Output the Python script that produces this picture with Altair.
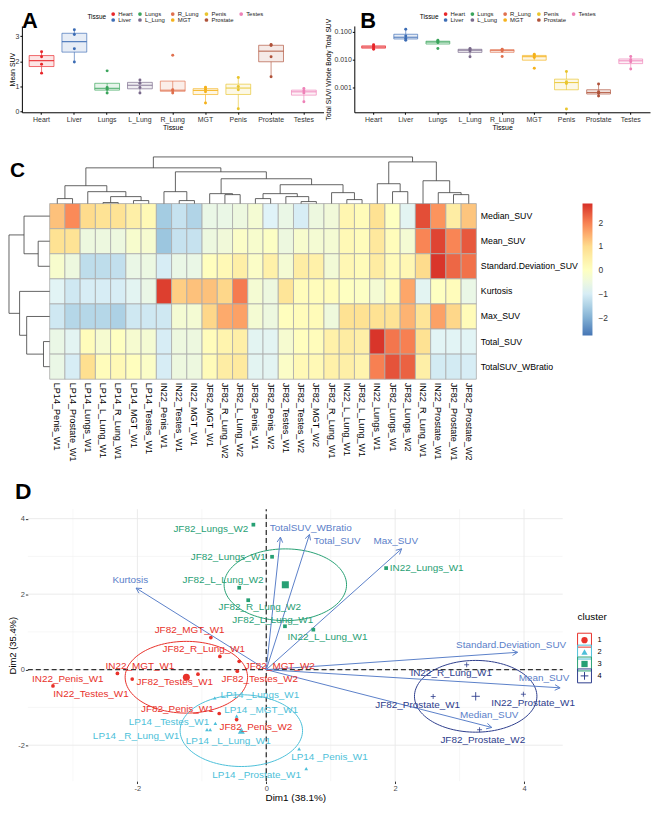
import altair as alt
import numpy as np
import pandas as pd

W, H = 648, 795
FONT = "Liberation Sans"

# ---------------- Panels A & B data ----------------
tissues = ["Heart", "Liver", "Lungs", "L_Lung", "R_Lung", "MGT", "Penis", "Prostate", "Testes"]
legend_order = ["Heart", "Lungs", "R_Lung", "Penis", "Testes", "Liver", "L_Lung", "MGT", "Prostate"]
legend_colors = ["#E8262A", "#3BA55C", "#E0704E", "#E9C52E", "#EE82B8", "#3D6DB5", "#7A6A8C", "#F5B21B", "#B0533A"]
sample_tissue = [t for t in tissues for _ in range(4)]
mean_suv = [2.38, 2.18, 1.88, 1.53,
            3.26, 3.07, 2.50, 1.97,
            1.62, 0.96, 0.89, 0.74,
            1.26, 1.13, 0.96, 0.74,
            2.24, 0.87, 0.83, 0.74,
            0.97, 0.89, 0.79, 0.34,
            1.36, 1.00, 0.87, 0.11,
            2.67, 2.63, 2.18, 1.39,
            0.92, 0.83, 0.74, 0.39]
suv_ratio = [0.0344, 0.0308, 0.0269, 0.0240,
             0.1245, 0.0719, 0.0578, 0.0504,
             0.0504, 0.0452, 0.0416, 0.0254,
             0.0254, 0.0234, 0.0209, 0.0128,
             0.0240, 0.0228, 0.0209, 0.0132,
             0.0159, 0.0139, 0.0121, 0.0050,
             0.00383, 0.00164, 0.00143, 0.000173,
             0.00135, 0.000724, 0.000631, 0.000501,
             0.0132, 0.0100, 0.0085, 0.00465]

# ---------------- Panel C data ----------------
hm_rows = ["Median_SUV", "Mean_SUV", "Standard.Deviation_SUV", "Kurtosis", "Max_SUV", "Total_SUV", "TotalSUV_WBratio"]
hm_cols = ["LP14_Penis_W1", "LP14_Prostate_W1", "LP14_Lungs_W1", "LP14_L_Lung_W1", "LP14_R_Lung_W1",
           "LP14_MGT_W1", "LP14_Testes_W1", "IN22_Penis_W1", "IN22_Testes_W1", "IN22_MGT_W1",
           "JF82_MGT_W1", "JF82_R_Lung_W2", "JF82_L_Lung_W2", "JF82_Penis_W1", "JF82_Penis_W2",
           "JF82_Testes_W1", "JF82_Testes_W2", "JF82_MGT_W2", "JF82_R_Lung_W1", "IN22_L_Lung_W1",
           "JF82_L_Lung_W1", "IN22_Lungs_W1", "JF82_Lungs_W1", "JF82_Lungs_W2", "IN22_R_Lung_W1",
           "IN22_Prostate_W1", "JF82_Prostate_W1", "JF82_Prostate_W2"]
median_z = [1.3, 1.9, 1.0, 0.85, 0.85, 0.5, 0.2, -1.6, -1.2, -1.45, -0.6, -0.6, -0.5, -0.3, -0.9, -0.6, -1.0, -0.5,
            -0.4, 0.3, 0.15, 0.9, 0.0, -0.8, 2.5, 1.8, 0.55, 1.25]
mean_z = [0.9, 0.85, -0.5, -0.5, -0.5, -0.2, -0.25, -1.7, -1.2, -1.2, -0.5, -0.4, -0.1, -0.2, -0.05, -0.5, -0.2, -0.3,
          -0.3, 0.2, 0.1, 0.7, 0.1, -0.3, 1.95, 2.6, 1.95, 2.4]
sd_z = [-0.2, -0.5, -1.3, -1.3, -1.25, -0.6, -0.55, -1.0, -0.6, -0.6, 0.05, 0.2, 0.5, -0.1, 0.45, -0.3, 0.55, 0.45,
        -0.35, 0.25, 0.15, 0.6, 0.15, 0.25, 1.0, 2.75, 2.25, 2.15]
kurt_z = [-0.85, -1.1, -1.0, -1.0, -1.0, -0.8, -0.6, 2.65, 1.15, 1.3, 1.3, 1.05, 2.05, -0.3, -0.5, 0.8, 0.1, 0.1,
          0.1, 0.0, -0.05, -0.3, 0.1, 1.6, -0.8, 0.0, 0.1, -0.6]
max_z = [-1.1, -1.4, -1.4, -1.4, -1.5, -1.1, -1.1, -1.1, -0.3, -0.3, 1.05, 1.55, 1.65, -0.3, -0.5, 0.05, 0.1, 0.15,
         -0.45, 0.9, 0.9, 0.9, 0.85, 1.45, 0.8, 1.65, 1.05, 0.15]
total_z = [-0.6, -0.8, 0.1, -0.25, 0.0, -0.25, -0.3, -1.0, -0.5, -0.5, 0.1, 0.35, 0.5, -0.8, -0.8, -0.25, 0.05, 0.1,
           0.45, 0.6, 0.5, 2.75, 2.1, 2.0, 0.9, -0.85, -0.85, -0.85]
wb_z = [-0.6, -1.0, 0.95, 0.1, 0.2, 0.05, -0.1, -1.0, -0.5, -0.5, 0.15, 0.55, 0.65, -0.8, -0.8, -0.1, 0.2, 0.2,
        0.45, 0.5, 0.35, 2.0, 2.45, 2.3, 0.5, -1.05, -1.05, -1.0]
hm_breaks = [-2.75, 2.8]
hm_palette = ["#4575B4", "#91BFDB", "#E0F3F8", "#FFFFBF", "#FEE090", "#FC8D59", "#D73027"]
# dendrograms: (merge height, left, right); leaves are column / row indices
col_tree = (47,
            (36,
             (18, (5, 0, 1), (12, 2, (7, (1, 3, 4), (3, 5, 6)))),
             (32, (12, 7, (3, 8, 9)),
              (25, (10, 10, (9, 11, 12)),
               (19, (10, (5, 13, 14), (7, 15, (2, 16, 17))), (11, 18, (4, 19, 20)))))),
            (42, (20, 21, (12, 22, 23)), (23, 24, (11, 25, (9, 26, 27)))))
row_tree = (46, (29, 0, (13, 1, 2)), (34, 3, (26, 4, (7, 5, 6))))

# ---------------- Panel D data ----------------
pca_samples = ["JF82_MGT_W1", "JF82_R_Lung_W1", "IN22_MGT_W1", "IN22_Penis_W1", "IN22_Testes_W1",
               "JF82_MGT_W2", "JF82_Testes_W2", "JF82_Testes_W1", "JF82_Penis_W1", "JF82_Penis_W2",
               "LP14 _Penis_W1", "LP14 _Prostate_W1", "LP14 _Lungs_W1", "LP14 _L_Lung_W1", "LP14 _R_Lung_W1",
               "LP14 _MGT_W1", "LP14 _Testes_W1",
               "JF82_Lungs_W2", "JF82_Lungs_W1", "JF82_L_Lung_W2", "JF82_R_Lung_W2", "JF82_L_Lung_W1",
               "IN22_L_Lung_W1", "IN22_Lungs_W1",
               "IN22_R_Lung_W1", "JF82_Prostate_W1", "IN22_Prostate_W1", "JF82_Prostate_W2"]
pca_cluster = ["1"] * 10 + ["2"] * 7 + ["3"] * 7 + ["4"] * 4
pca_dim1 = [-0.86, -0.72, -2.31, -3.31, -2.08, -0.42, -0.45, -1.06, -0.73, -0.46,
            0.51, 0.62, -0.80, -0.87, -0.92, -0.46, -0.79,
            -0.20, 0.09, -0.42, -0.28, 0.29, 0.73, 1.86,
            3.11, 2.59, 3.99, 3.31]
pca_dim2 = [0.85, 0.35, -0.10, -0.43, -0.25, 0.22, -0.04, -0.12, -1.16, -1.32,
            -2.10, -2.62, -0.75, -1.59, -1.59, -1.23, -1.42,
            3.84, 2.99, 2.17, 1.84, 1.15, 1.06, 2.69,
            0.13, -0.71, -0.65, -1.59]
label_dim1 = [-1.19, -0.97, -1.96, -3.08, -2.72, 0.21, -0.10, -1.42, -1.38, -0.16,
              0.98, -0.15, -0.10, -0.59, -2.02, -0.08, -1.51,
              -0.86, -0.59, -0.67, -0.10, 0.10, 0.95, 2.49,
              2.87, 2.35, 4.14, 3.36]
label_dim2 = [1.05, 0.55, 0.11, -0.25, -0.65, 0.11, -0.25, -0.32, -1.03, -1.53,
              -2.31, -2.79, -0.68, -1.88, -1.75, -1.06, -1.38,
              3.72, 2.99, 2.38, 1.67, 1.31, 0.86, 2.69,
              -0.09, -0.93, -0.87, -1.86]
var_names = ["Median_SUV", "Mean_SUV", "Standard.Deviation_SUV", "Kurtosis", "Max_SUV", "Total_SUV", "TotalSUV_WBratio"]
var_dim1 = [3.50, 4.56, 3.90, -2.02, 2.10, 0.67, 0.22]
var_dim2 = [-1.53, -0.48, 0.46, 2.16, 3.20, 3.58, 3.51]
var_label_dim1 = [3.46, 4.31, 3.80, -2.11, 2.01, 1.10, 0.69]
var_label_dim2 = [-1.20, -0.22, 0.65, 2.38, 3.42, 3.40, 3.75]
clu_ids = ["1", "2", "3", "4"]
clu_colors = ["#E8312A", "#4DBFD9", "#27A074", "#2D3D8C"]
arrow_color = "#5B80C9"
ellipse_radius = 0.95
grid_major = [-2, 0, 2, 4]
grid_minor_x = [-3, -1, 1, 3]
grid_minor_y = [-1, 1, 3]
dom_x = [-3.7, 4.6]
dom_y = [-2.95, 4.25]


def ax(**kw):
    d = dict(labelFont=FONT, titleFont=FONT, titleFontWeight="normal", grid=False,
             labelOverlap=False, labelColor="#4D4D4D", titleColor="black")
    d.update(kw)
    return alt.Axis(**d)


# ---------------- box panels ----------------
def box_panel(values, xr, yr, ydom, box_w, yaxis, legend_x):
    df = pd.DataFrame({"tissue": sample_tissue, "v": values})
    xs = alt.Scale(domain=tissues, range=xr, paddingInner=0, paddingOuter=0.1)
    ys = alt.Scale(domain=ydom, range=yr, nice=False, zero=False)
    cs = alt.Scale(domain=legend_order, range=legend_colors)
    xaxis = ax(orient="bottom", offset=yr[0] - H, title="Tissue", labelFontSize=7, titleFontSize=7,
               tickSize=2, labelPadding=1, titlePadding=1, domainColor="black", tickColor="black",
               labelAngle=0, labelColor="#333333")
    leg = alt.Legend(orient="none", legendX=legend_x, legendY=0, direction="horizontal", columns=5,
                     title="Tissue", titleOrient="left", titleFontSize=6.5, titleFontWeight="normal",
                     titleFont=FONT, labelFont=FONT, labelFontSize=6, labelColor="#222222",
                     symbolSize=14, symbolType="circle", rowPadding=0, columnPadding=4,
                     labelOffset=2, padding=0, titlePadding=4, symbolStrokeWidth=0)
    X = alt.X("tissue:N", scale=xs, axis=xaxis)
    C = alt.Color("tissue:N", scale=cs, legend=leg)

    def Y(f):
        return alt.Y(f, type="quantitative", scale=ys, axis=yaxis)

    base = alt.Chart(df)
    stats = base.transform_joinaggregate(
        q1a="q1(v)", q3a="q3(v)", meda="median(v)", groupby=["tissue"]
    ).transform_filter(
        "datum.v >= datum.q1a - 1.5*(datum.q3a - datum.q1a) && datum.v <= datum.q3a + 1.5*(datum.q3a - datum.q1a)"
    ).transform_aggregate(
        lo="min(v)", hi="max(v)", q1="min(q1a)", q3="min(q3a)", med="min(meda)", groupby=["tissue"]
    )
    pts = base.mark_circle(size=9, opacity=1).encode(x=X, y=Y("v"), color=C)
    wlo = stats.mark_rule(strokeWidth=0.8, opacity=0.8).encode(x=X, y=Y("lo"), y2="q1:Q", color=C)
    whi = stats.mark_rule(strokeWidth=0.8, opacity=0.8).encode(x=X, y=Y("q3"), y2="hi:Q", color=C)
    bfill = stats.mark_bar(size=box_w, fillOpacity=0.12).encode(x=X, y=Y("q1"), y2="q3:Q", color=C)
    bline = stats.mark_bar(size=box_w, filled=False, fill="transparent", strokeWidth=0.9,
                           strokeOpacity=0.75).encode(x=X, y=Y("q1"), y2="q3:Q", color=C)
    med = stats.mark_tick(size=box_w, thickness=1.1, opacity=0.85).encode(x=X, y=Y("med"), color=C)
    return alt.layer(pts, wlo, whi, bfill, bline, med)


yaxisA = ax(orient="left", offset=-14, values=[0, 1, 2, 3], title="Mean SUV", labelFontSize=7,
            titleFontSize=7, tickSize=2, labelPadding=1, titlePadding=0, domainColor="black",
            tickColor="black", labelColor="#333333")
panelA = box_panel(mean_suv, [14, 318], [102, 15], [-0.03, 3.41], 25, yaxisA, 80)

yaxisB = ax(orient="left", offset=-349, values=[-3, -2, -1], labelExpr="format(pow(10, datum.value), '.3f')",
            title="Total SUV/ Whole Body Total SUV", labelFontSize=7, titleFontSize=6.8, tickSize=2,
            labelPadding=1, titlePadding=2, domainColor="black", tickColor="black", labelColor="#333333")
panelB = box_panel(list(np.log10(suv_ratio)), [349, 647], [102, 15], [-3.88, -0.786], 24, yaxisB, 415)

# ---------------- heatmap ----------------
zrows = [median_z, mean_z, sd_z, kurt_z, max_z, total_z, wb_z]
hm_df = pd.DataFrame([(r, c, z) for r, zl in zip(hm_rows, zrows) for c, z in zip(hm_cols, zl)],
                     columns=["row", "col", "z"])
hm_stops = [float(v) for v in np.linspace(hm_breaks[0], hm_breaks[1], len(hm_palette))]
HX0, HX1, HY0, HY1 = 42, 472, 194, 371
heat = alt.Chart(hm_df).mark_rect(stroke="#ABABAB", strokeWidth=0.8).encode(
    x=alt.X("col:N", scale=alt.Scale(domain=hm_cols, range=[HX0, HX1], paddingInner=0, paddingOuter=0),
            axis=ax(orient="bottom", offset=HY1 - H, labelAngle=90, labelFontSize=9.2, labelColor="black",
                    domain=False, ticks=False, labelPadding=3, title=None)),
    y=alt.Y("row:N", scale=alt.Scale(domain=hm_rows, range=[HY0, HY1], paddingInner=0, paddingOuter=0),
            axis=ax(orient="right", offset=HX1 - W, labelFontSize=8.8, labelColor="black",
                    domain=False, ticks=False, labelPadding=4, title=None)),
    color=alt.Color("z:Q", scale=alt.Scale(domain=hm_stops, range=hm_palette, interpolate="rgb"),
                    legend=alt.Legend(orient="none", legendX=579, legendY=HY0, direction="vertical",
                                      gradientLength=133, gradientThickness=10, title=None,
                                      values=[-2, -1, 0, 1, 2], labelFontSize=8.5, labelFont=FONT,
                                      labelColor="#333333", labelOffset=6, gradientStrokeWidth=0)),
)


def dendro_segments(tree):
    segs = []

    def walk(node):
        if isinstance(node, int):
            return node + 0.5, 0.0
        h, left, right = node
        x1, h1 = walk(left)
        x2, h2 = walk(right)
        segs.append((x1, h, x2, h))
        segs.append((x1, h1, x1, h))
        segs.append((x2, h2, x2, h))
        return (x1 + x2) / 2, h

    walk(tree)
    return pd.DataFrame(segs, columns=["p0", "h0", "p1", "h1"])


col_seg = dendro_segments(col_tree)
row_seg = dendro_segments(row_tree)
col_dend = alt.Chart(col_seg).mark_rule(color="#3C3C3C", strokeWidth=0.8).encode(
    x=alt.X("p0:Q", scale=alt.Scale(domain=[0, len(hm_cols)], range=[HX0, HX1], nice=False, zero=False), axis=None),
    x2="p1:Q",
    y=alt.Y("h0:Q", scale=alt.Scale(domain=[0, col_tree[0]], range=[HY0, 147], nice=False, zero=False), axis=None),
    y2="h1:Q",
)
row_dend = alt.Chart(row_seg).mark_rule(color="#3C3C3C", strokeWidth=0.8).encode(
    y=alt.Y("p0:Q", scale=alt.Scale(domain=[0, len(hm_rows)], range=[HY0, HY1], nice=False, zero=False), axis=None),
    y2="p1:Q",
    x=alt.X("h0:Q", scale=alt.Scale(domain=[0, row_tree[0]], range=[HX0, 1], nice=False, zero=False), axis=None),
    x2="h1:Q",
)

# ---------------- PCA biplot ----------------
DX0, DX1, DY0, DY1 = 20, 559, 776, 502
xD = alt.Scale(domain=dom_x, range=[DX0, DX1], nice=False, zero=False)
yD = alt.Scale(domain=dom_y, range=[DY0, DY1], nice=False, zero=False)
axDx = ax(orient="bottom", offset=DY0 - H, values=grid_major, labelExpr="'' + datum.value", title="Dim1 (38.1%)",
          labelFontSize=7.5, titleFontSize=10, tickSize=2.5, labelPadding=1, titlePadding=1, domain=False,
          tickColor="#333333")
axDy = ax(orient="left", offset=-DX0, values=grid_major, labelExpr="'' + datum.value", title="Dim2 (35.4%)",
          labelFontSize=7.5, titleFontSize=9.5, tickSize=2.5, labelPadding=1, titlePadding=0, domain=False,
          tickColor="#333333")


def XD(f):
    return alt.X(f, type="quantitative", scale=xD, axis=axDx)


def YD(f):
    return alt.Y(f, type="quantitative", scale=yD, axis=axDy)


cD = alt.Scale(domain=clu_ids, range=clu_colors)
CD = alt.Color("cluster:N", scale=cD, legend=None)
shapeD = alt.Shape("cluster:N", scale=alt.Scale(domain=clu_ids[:3], range=["circle", "triangle-up", "square"]),
                   legend=None)
PLUS = "M-1,0L1,0M0,-1L0,1"

pca_df = pd.DataFrame(dict(sample=pca_samples, cluster=pca_cluster, d1=pca_dim1, d2=pca_dim2,
                           lx=label_dim1, ly=label_dim2))
gx_major = pd.DataFrame({"g": grid_major, "lo": dom_y[0], "hi": dom_y[1]})
gx_minor = pd.DataFrame({"g": grid_minor_x, "lo": dom_y[0], "hi": dom_y[1]})
gy_major = pd.DataFrame({"g": grid_major, "lo": dom_x[0], "hi": dom_x[1]})
gy_minor = pd.DataFrame({"g": grid_minor_y, "lo": dom_x[0], "hi": dom_x[1]})
zero_df = pd.DataFrame({"z": [0.0], "xlo": [dom_x[0]], "xhi": [dom_x[1]], "ylo": [dom_y[0]], "yhi": [dom_y[1]]})

cent = pca_df.groupby("cluster")[["d1", "d2"]].mean()
tt = np.linspace(0, 2 * np.pi, 121)
ell_rows = []
for cl in clu_ids:
    cx, cy = cent.loc[cl, "d1"], cent.loc[cl, "d2"]
    for k, t in enumerate(tt):
        ell_rows.append((cl, k, cx + ellipse_radius * np.cos(t), cy + ellipse_radius * np.sin(t)))
ell_df = pd.DataFrame(ell_rows, columns=["cluster", "k", "ex", "ey"])

var_df = pd.DataFrame(dict(name=var_names, d1=var_dim1, d2=var_dim2, lx=var_label_dim1, ly=var_label_dim2,
                           o=0.0))
sx = (DX1 - DX0) / (dom_x[1] - dom_x[0])
sy = (DY0 - DY1) / (dom_y[1] - dom_y[0])
head_rows = []
for nm, vx, vy in zip(var_names, var_dim1, var_dim2):
    ang = np.arctan2(vy * sy, vx * sx)
    for s in (1, -1):
        a = ang + np.pi + s * np.radians(28)
        head_rows.append((nm, vx, vy, vx + 6 * np.cos(a) / sx, vy + 6 * np.sin(a) / sy))
head_df = pd.DataFrame(head_rows, columns=["name", "tx", "ty", "wx", "wy"])

g1 = alt.Chart(gx_minor).mark_rule(color="#F2F2F2", strokeWidth=0.6).encode(x=XD("g"), y=YD("lo"), y2="hi:Q")
g2 = alt.Chart(gy_minor).mark_rule(color="#F2F2F2", strokeWidth=0.6).encode(y=YD("g"), x=XD("lo"), x2="hi:Q")
g3 = alt.Chart(gx_major).mark_rule(color="#E8E8E8", strokeWidth=0.9).encode(x=XD("g"), y=YD("lo"), y2="hi:Q")
g4 = alt.Chart(gy_major).mark_rule(color="#E8E8E8", strokeWidth=0.9).encode(y=YD("g"), x=XD("lo"), x2="hi:Q")
z1 = alt.Chart(zero_df).mark_rule(color="#333333", strokeWidth=1.3, strokeDash=[5, 3]).encode(
    x=XD("z"), y=YD("ylo"), y2="yhi:Q")
z2 = alt.Chart(zero_df).mark_rule(color="#333333", strokeWidth=1.3, strokeDash=[5, 3]).encode(
    y=YD("z"), x=XD("xlo"), x2="xhi:Q")
ell = alt.Chart(ell_df).mark_line(strokeWidth=1).encode(x=XD("ex"), y=YD("ey"), color=CD, order="k:Q")
arrows = alt.Chart(var_df).mark_rule(color=arrow_color, strokeWidth=1).encode(
    x=XD("o"), y=YD("o"), x2="d1:Q", y2="d2:Q")
heads = alt.Chart(head_df).mark_rule(color=arrow_color, strokeWidth=1).encode(
    x=XD("tx"), y=YD("ty"), x2="wx:Q", y2="wy:Q")
base_pts = alt.Chart(pca_df)
pts123 = base_pts.transform_filter("datum.cluster != '4'").mark_point(filled=True, size=14, opacity=1).encode(
    x=XD("d1"), y=YD("d2"), color=CD, shape=shapeD)
pts4 = base_pts.transform_filter("datum.cluster == '4'").mark_point(shape=PLUS, filled=False, size=25,
                                                                    strokeWidth=0.8, opacity=1).encode(
    x=XD("d1"), y=YD("d2"), color=CD)
centers = base_pts.transform_aggregate(cx="mean(d1)", cy="mean(d2)", groupby=["cluster"])
cen123 = centers.transform_filter("datum.cluster != '4'").mark_point(filled=True, size=50, opacity=1).encode(
    x=XD("cx"), y=YD("cy"), color=CD, shape=shapeD)
cen4 = centers.transform_filter("datum.cluster == '4'").mark_point(shape=PLUS, filled=False, size=70,
                                                                   strokeWidth=0.9, opacity=1).encode(
    x=XD("cx"), y=YD("cy"), color=CD)
labels = base_pts.mark_text(font=FONT, fontSize=10).encode(x=XD("lx"), y=YD("ly"), text="sample:N", color=CD)
var_labels = alt.Chart(var_df).mark_text(font=FONT, fontSize=10, color=arrow_color).encode(
    x=XD("lx"), y=YD("ly"), text="name:N")
panelD = alt.layer(g1, g2, g3, g4, z1, z2, ell, arrows, heads, pts123, pts4, cen123, cen4, labels, var_labels)

# manual cluster legend
leg_df = pd.DataFrame({"cluster": clu_ids})
yL = alt.Y("cluster:N", scale=alt.Scale(type="point", domain=clu_ids, range=[628, 676]), axis=None)
cL = alt.Color("cluster:N", scale=cD, legend=None)
key_box = alt.Chart(leg_df).mark_square(size=196, filled=False, strokeWidth=1, opacity=1).encode(
    x=alt.value(581), y=yL, color=cL)
key_pts = alt.Chart(leg_df).transform_filter("datum.cluster != '4'").mark_point(filled=True, size=40,
                                                                                opacity=1).encode(
    x=alt.value(581), y=yL, color=cL,
    shape=alt.Shape("cluster:N", scale=alt.Scale(domain=clu_ids[:3], range=["circle", "triangle-up", "square"]),
                    legend=None))
key_plus = alt.Chart(leg_df).transform_filter("datum.cluster == '4'").mark_point(shape=PLUS, filled=False, size=60,
                                                                                 strokeWidth=1, opacity=1).encode(
    x=alt.value(581), y=yL, color=cL)
key_txt = alt.Chart(leg_df).mark_text(font=FONT, fontSize=7.5, align="left", color="black").encode(
    x=alt.value(594), y=yL, text="cluster:N")
key_title = alt.Chart(pd.DataFrame({"t": ["cluster"]})).mark_text(
    font=FONT, fontSize=10, align="left", baseline="alphabetic", color="black").encode(
    x=alt.value(574), y=alt.value(614), text="t:N")
legendD = alt.layer(key_box, key_pts, key_plus, key_txt)


def letter(ch, x, y, size):
    return alt.Chart(pd.DataFrame({"t": [ch]})).mark_text(
        font=FONT, fontSize=size, fontWeight="bold", align="left", baseline="alphabetic", color="black"
    ).encode(x=alt.value(x), y=alt.value(y), text="t:N")


chart = alt.layer(
    panelA, panelB, heat, col_dend, row_dend, panelD, legendD, key_title,
    letter("A", 14, 17, 22), letter("B", 355, 17, 22), letter("C", 2, 167, 21), letter("D", 7, 492, 23)
).resolve_scale(
    x="independent", y="independent", color="independent", shape="independent"
).properties(
    width=W, height=H, autosize=alt.AutoSizeParams(type="none"), padding=0
).configure(
    font=FONT, background="white"
).configure_view(stroke=None)

chart.save("out.html", embed_options={"renderer": "svg", "actions": False})
